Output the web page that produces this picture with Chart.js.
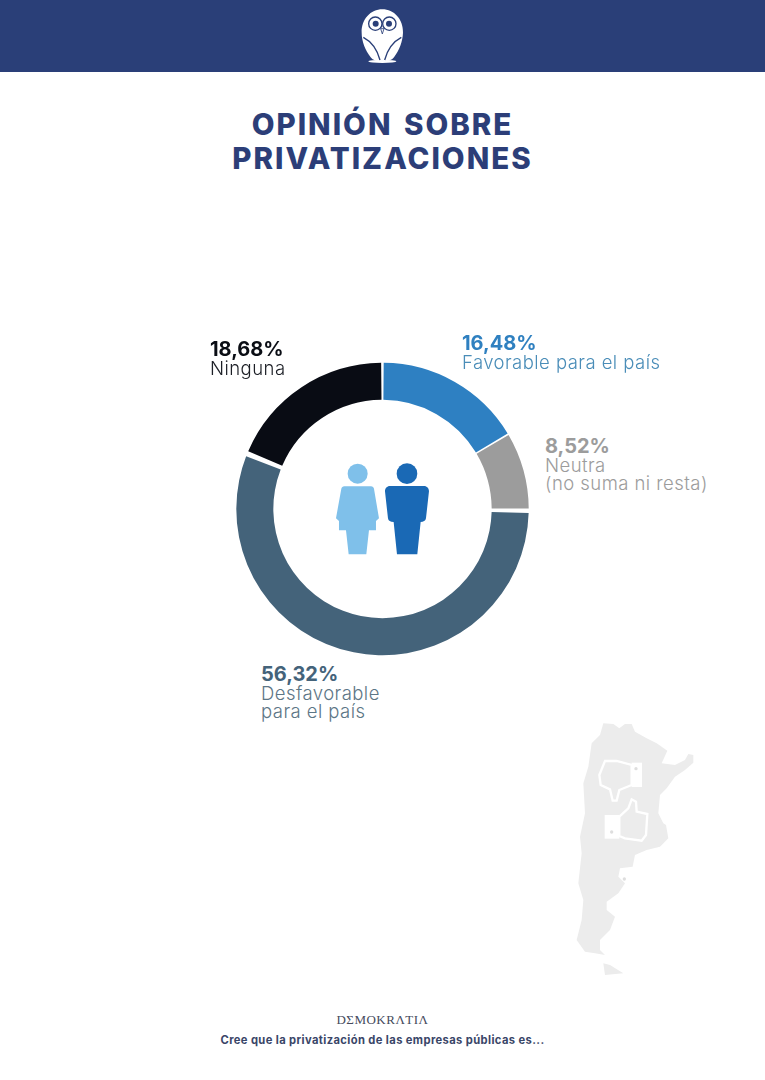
<!DOCTYPE html>
<html><head><meta charset="utf-8">
<script src="https://cdn.jsdelivr.net/npm/chart.js@4"></script>
<style>
html,body{margin:0;padding:0;background:#fff;width:765px;height:1080px;overflow:hidden;font-family:Inter,"Open Sans",sans-serif}
#header{position:absolute;left:0;top:0;width:765px;height:72px;background:#2a3f78}
.t{position:absolute;white-space:nowrap;margin:0}
.title{left:0;width:765px;text-align:center;color:#2c3e78;font-weight:800;font-size:29.5px;line-height:34px;letter-spacing:2px;word-spacing:3px}
.lab{font-size:18.5px;line-height:18.2px}
.pct{display:block;font-weight:700;font-size:20px;line-height:19px;letter-spacing:0}
.sub{font-weight:300;letter-spacing:.45px}
#wrap{position:absolute;left:232px;top:359px;width:301px;height:300px}
svg{position:absolute;left:0;top:0}
</style></head><body>
<div id="header"></div>
<svg width="765" height="1080" viewBox="0 0 765 1080">
  <!-- owl -->
  <g transform="translate(320,0) scale(.3333)">
    <path d="M187 28C222 28 250 58 249 98C248 125 238 150 222 172C215 181 205 184 187 184C169 184 159 181 152 172C136 150 125 125 125 98C124 58 152 28 187 28Z" fill="#fff"/>
    <ellipse cx="187" cy="184" rx="42" ry="5" fill="#fff"/>
    <circle cx="166" cy="71" r="20" fill="#fff" stroke="#2a3f78" stroke-width="4"/>
    <circle cx="208" cy="71" r="20" fill="#fff" stroke="#2a3f78" stroke-width="4"/>
    <circle cx="167" cy="71" r="9" fill="#2a3f78"/><circle cx="207" cy="71" r="9" fill="#2a3f78"/>
    <path d="M182 86L192 86L187 102Z" fill="none" stroke="#2a3f78" stroke-width="2.5"/>
    <path d="M130 112C155 125 172 150 180 180M244 112C219 125 202 150 194 180" fill="none" stroke="#2a3f78" stroke-width="4"/>
  </g>
  <!-- map -->
  <g transform="translate(560,710) scale(.3333)">
    <path fill="#ececec" d="M130 40L160 42L178 55L195 42L215 42L225 65L260 85L290 100L322 122L305 160L345 165L375 150L385 132L400 135L400 158L375 180L345 200L320 235L300 255L295 310L310 340L318 345L325 385L300 410L260 420L225 435L218 470L180 475L175 500L195 520L175 550L140 575L140 600L165 620L150 660L120 690L120 720L135 735L105 730L75 725L50 690L65 630L70 570L55 520L65 430L60 380L75 310L70 220L85 170L95 100L120 75Z"/>
    <path fill="#ececec" d="M130 760L150 765L190 790L135 795Z"/>
    <path fill="#ececec" stroke="#fff" stroke-width="7" d="M135 153L170 153L215 165L215 225L178 240L170 272L158 272L150 238L122 225L118 195Z"/>
    <rect x="215" y="158" width="31" height="73" fill="#fff"/><circle cx="228" cy="176" r="5" fill="#dedede"/>
    <path fill="#ececec" stroke="#fff" stroke-width="7" d="M178 320L205 295L215 268L228 275L230 305L262 312L258 375L245 392L195 385L178 378Z"/>
    <rect x="134" y="315" width="44" height="71" fill="#fff"/><circle cx="155" cy="366" r="5" fill="#dedede"/>
    <circle cx="193" cy="507" r="5" fill="#dedede"/>
  </g>
  <!-- people -->
  <g transform="translate(200,320) scale(.3333)">
    <circle cx="473" cy="461" r="30" fill="#7fc0ea"/>
    <path fill="#7fc0ea" d="M433 499L513 499C518 499 521 502 522 506L537 595L528 603L528 631L507 631L499 703L446 703L438 631L417 631L417 603L408 595L424 506C425 502 428 499 433 499Z"/>
    <circle cx="621" cy="461" r="31" fill="#1a69b5"/>
    <path fill="#1a69b5" d="M570 498L672 498C681 498 687 505 687 514L678 595C677 603 670 606 662 606L652 703L591 703L581 606C571 606 565 603 564 595L555 514C555 505 561 498 570 498Z"/>
  </g>
</svg>
<div id="wrap"><canvas id="c" width="301" height="300"></canvas></div>
<h1 class="t title" style="top:106.5px">OPINIÓN SOBRE<br>PRIVATIZACIONES</h1>
<div class="t lab" style="left:462px;top:334px;color:#4a8db8"><span class="pct" style="color:#2f80c0">16,48%</span><span class="sub">Favorable para el país</span></div>
<div class="t lab" style="left:545px;top:437px;color:#9c9c9c"><span class="pct">8,52%</span><span class="sub">Neutra<br>(no suma ni resta)</span></div>
<div class="t lab" style="left:261px;top:665px;color:#5d7686"><span class="pct" style="color:#44637a">56,32%</span><span class="sub">Desfavorable<br>para el país</span></div>
<div class="t lab" style="left:210px;top:340px;color:#1c1f26"><span class="pct" style="color:#0a0d14">18,68%</span><span class="sub">Ninguna</span></div>
<div class="t" style="left:0;width:765px;text-align:center;top:1012px;font:13px/16px 'Liberation Serif',serif;letter-spacing:.5px;color:#444a5c">DΣMOKRΛTIΛ</div>
<div class="t" style="left:0;width:765px;text-align:center;top:1033px;font-weight:700;font-size:11.2px;line-height:15px;letter-spacing:.38px;color:#3a4668">Cree que la privatización de las empresas públicas es...</div>
<script>
const categories = ["Favorable para el país", "Neutra (no suma ni resta)", "Desfavorable para el país", "Ninguna"];
const values = [16.48, 8.52, 56.32, 18.68];
const colors = ["#2e80c2", "#9c9c9c", "#44637a", "#090c14"];
new Chart(document.getElementById("c"), {
  type: "doughnut",
  data: { labels: categories, datasets: [{ data: values, backgroundColor: colors, borderColor: "#fff", borderWidth: 0, spacing: 4 }] },
  options: {
    responsive: false, animation: false, radius: 144.2, cutout: 110,
    layout: { padding: 0 },
    plugins: { legend: { display: false }, tooltip: { enabled: false } }
  }
});
</script>
</body></html>
